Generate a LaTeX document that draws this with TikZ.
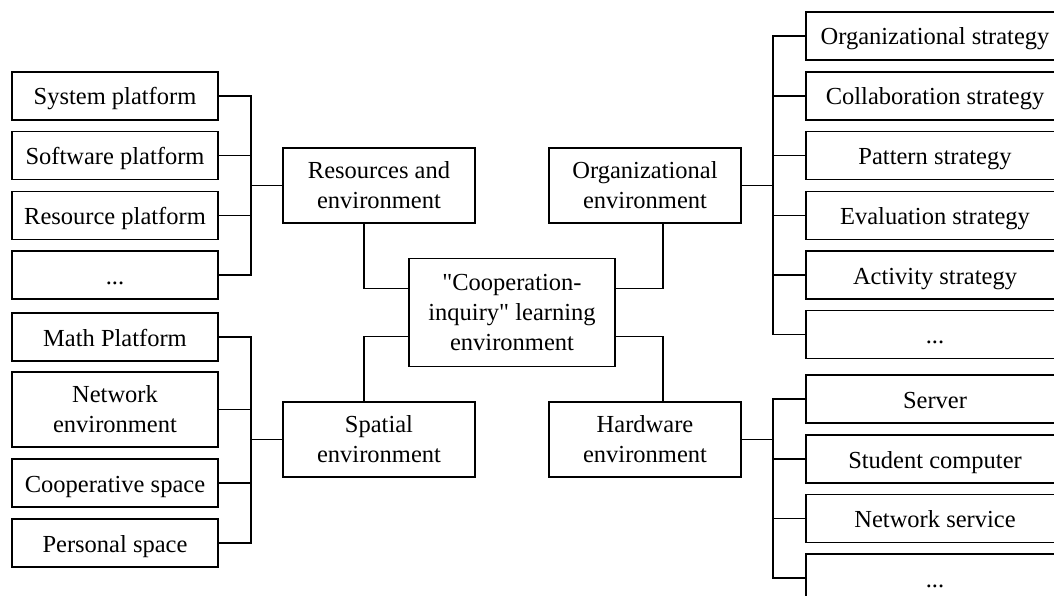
\documentclass[tikz,border=0pt]{standalone}
\usepackage{fontspec}
\setmainfont{Liberation Serif}[Ligatures=TeXOff]
\begin{document}
\begin{tikzpicture}[x=1pt,y=-1pt,
  line width=1.8pt,
  box/.style={draw=black, line width=1.8pt, rectangle, inner sep=0pt, align=center,
    font=\fontsize{24.5}{30}\selectfont},
  leaf/.style={box, minimum width=206pt, minimum height=48pt, text height=18pt, text depth=0pt},
  tallleaf/.style={box, minimum width=206pt, minimum height=75pt},
  wideleaf/.style={box, minimum width=258pt, minimum height=48pt, text height=18pt, text depth=0pt},
  mid/.style={box, minimum width=192pt, minimum height=75pt},
  link/.style={draw=black, line width=1.8pt}]
\useasboundingbox (0,0) rectangle (1054,596);
\clip (0,0) rectangle (1054,596);

% centre
\node[box, minimum width=206pt, minimum height=108pt] (cen) at (512,312.5)
  {"Cooperation-\\inquiry" learning\\environment};

% second level
\node[mid] (res) at (379,185.5) {Resources and\\environment};
\node[mid] (spa) at (379,439.5) {Spatial\\environment};
\node[mid] (org) at (645,185.5) {Organizational\\environment};
\node[mid] (hw)  at (645,439.5) {Hardware\\environment};

% left leaves: resources
\node[leaf] (sys)  at (115,96)    {System platform};
\node[leaf] (soft) at (115,155.5) {Software platform};
\node[leaf] (rplat) at (115,215.5) {Resource platform};
\node[leaf] (dl)   at (115,275)   {...};

% left leaves: spatial
\node[leaf] (math) at (115,337)     {Math Platform};
\node[tallleaf] (net) at (115,409.5) {Network\\environment};
\node[leaf] (coop) at (115,483)     {Cooperative space};
\node[leaf] (pers) at (115,543)     {Personal space};

% right leaves: organizational
\node[wideleaf] (os)  at (935,36)    {Organizational strategy};
\node[wideleaf] (cs)  at (935,96)    {Collaboration strategy};
\node[wideleaf] (ps)  at (935,155.5) {Pattern strategy};
\node[wideleaf] (es)  at (935,215.5) {Evaluation strategy};
\node[wideleaf] (as)  at (935,275)   {Activity strategy};
\node[wideleaf] (dr1) at (935,334.5) {...};

% right leaves: hardware
\node[wideleaf] (srv) at (935,399)   {Server};
\node[wideleaf] (stu) at (935,459)   {Student computer};
\node[wideleaf] (ns)  at (935,518.5) {Network service};
\node[wideleaf] (dr2) at (935,578)   {...};

% bracket junctions
\coordinate (jr) at (251,185.5);
\coordinate (js) at (251,439.5);
\coordinate (jo) at (773,185.5);
\coordinate (jh) at (773,439.5);

% centre to second level
\draw[link] ([xshift=-15pt]res.south) |- ([yshift=24pt]cen.west);
\draw[link] ([xshift=-15pt]spa.north) |- ([yshift=-24pt]cen.west);
\draw[link] ([xshift=18pt]org.south) |- ([yshift=24pt]cen.east);
\draw[link] ([xshift=18pt]hw.north)  |- ([yshift=-24pt]cen.east);

% brackets
\draw[link] (res.west) -- (jr);
\foreach \n in {sys,soft,rplat,dl} \draw[link] (\n.east) -| (jr);
\draw[link] (spa.west) -- (js);
\foreach \n in {math,net,coop,pers} \draw[link] (\n.east) -| (js);
\draw[link] (org.east) -- (jo);
\foreach \n in {os,cs,ps,es,as,dr1} \draw[link] (\n.west) -| (jo);
\draw[link] (hw.east) -- (jh);
\foreach \n in {srv,stu,ns,dr2} \draw[link] (\n.west) -| (jh);
\end{tikzpicture}
\end{document}
